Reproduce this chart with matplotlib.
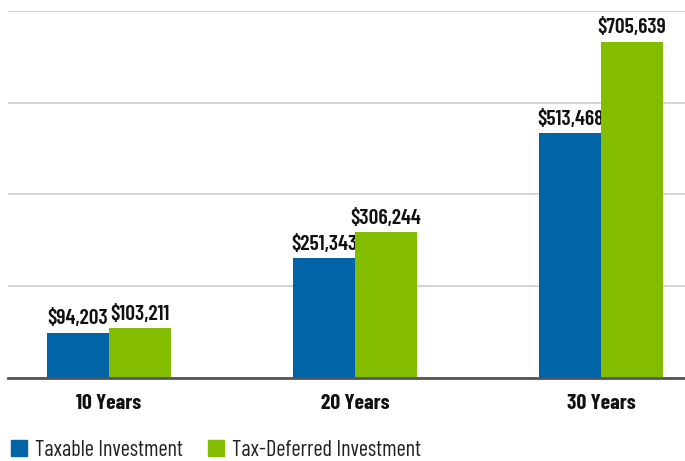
import matplotlib
matplotlib.use("Agg")
import matplotlib.pyplot as plt
import numpy as np
from matplotlib.patches import Patch

categories = ["10 Years", "20 Years", "30 Years"]
series_names = ["Taxable Investment", "Tax-Deferred Investment"]
taxable = [94203, 251343, 513468]
tax_deferred = [103211, 306244, 705639]
colors = ["#0064A7", "#84BD00"]

FONT = ["Barlow Condensed", "DejaVu Sans"]

fig = plt.figure(figsize=(6.85, 4.61), dpi=100)
ax = fig.add_axes([8/685, 83.5/461, 677/685, 366.5/461])

x = np.arange(len(categories))
w = 0.252
for i, (vals, c) in enumerate(zip([taxable, tax_deferred], colors)):
    pos = x + (i - 0.5) * w
    ax.bar(pos, vals, width=w, color=c, zorder=3)
    for p, v in zip(pos, vals):
        ax.annotate(f"${v:,}", (p, v), xytext=(0, 3), textcoords="offset points",
                    ha="center", va="bottom", fontsize=15.5, fontweight=600,
                    family=FONT, color="#111111")

ax.set_xlim(-0.41, 2.341)
ax.set_ylim(0, 770000)
ax.set_yticks(np.linspace(0, 770000, 5))
ax.yaxis.grid(True, color="#cccccc", linewidth=1.2, zorder=0)
ax.set_yticklabels([])
ax.tick_params(axis="y", length=0)
ax.set_xticks(x)
ax.set_xticklabels(categories, fontsize=15.5, fontweight="bold", family=FONT, color="#111111")
ax.tick_params(axis="x", length=0, pad=12)
for s in ["top", "right", "left"]:
    ax.spines[s].set_visible(False)
ax.spines["bottom"].set_color("#555555")
ax.spines["bottom"].set_linewidth(2)
ax.spines["bottom"].set_zorder(4)

handles = [Patch(color=c) for c in colors]
leg = fig.legend(handles, series_names, loc="lower left", bbox_to_anchor=(11/685, 0.0),
                 ncol=2, frameon=False, borderpad=0, borderaxespad=0,
                 handlelength=0.72, handleheight=0.72,
                 handletextpad=0.36, columnspacing=1.13,
                 prop={"family": FONT, "size": 16})
for t in leg.get_texts():
    t.set_color("#222222")

fig.savefig("out.png", dpi=100)
